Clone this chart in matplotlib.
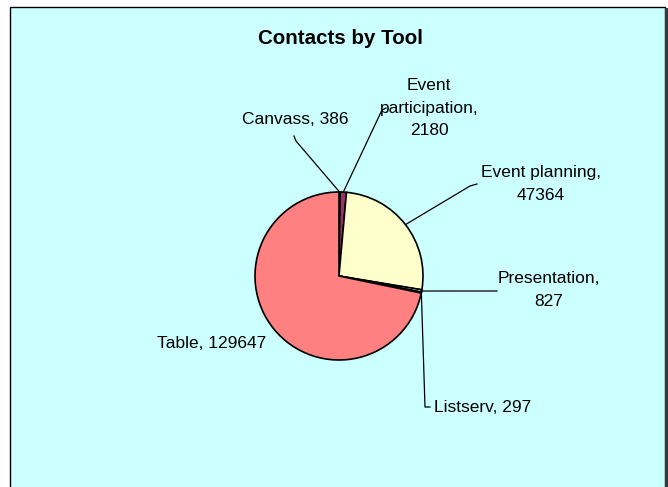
import numpy as np
import matplotlib
matplotlib.use("Agg")
import matplotlib.pyplot as plt
from matplotlib.patches import Rectangle

plt.rcParams["font.family"] = ["Liberation Sans", "DejaVu Sans"]

categories = ["Canvass", "Event participation", "Event planning",
              "Presentation", "Listserv", "Table"]
values = [386, 2180, 47364, 827, 297, 129647]
colors = ["#9999FF", "#993366", "#FFFFCC", "#CCFFFF", "#660066", "#FF8080"]
title = "Contacts by Tool"

W, H = 668, 487
CX, CY, R = 339, 276, 84   # pie centre and radius in pixels


def px(x, y):
    """pixel position (top-left origin) -> pie data coords (radius 1)"""
    return (x - CX) / R, (CY - y) / R


# label text anchor (pixels), alignment, and leader elbow points (pixels)
label_layout = {
    "Canvass": dict(text=(295, 119), ha="center", text_str="Canvass, 386",
                    path=[(294, 136), (296, 141)]),
    "Event participation": dict(text=(429, 108), ha="center",
                                text_str="Event\nparticipation,\n2180",
                                path=[(386, 108), (382, 110)]),
    "Event planning": dict(text=(541, 184), ha="center",
                           text_str="Event planning,\n47364",
                           path=[(477, 184), (470, 186)]),
    "Presentation": dict(text=(549, 290), ha="center",
                         text_str="Presentation,\n827",
                         path=[(497, 291)]),
    "Listserv": dict(text=(434, 408), ha="left", text_str="Listserv, 297",
                     path=[(430, 407), (425, 407)]),
    "Table": dict(text=(212, 343), ha="center", text_str="Table, 129647",
                  path=None),
}

fig = plt.figure(figsize=(W / 100, H / 100), dpi=100)
fig.patch.set_facecolor("white")

# chart area background with border and right shadow
fig.patches.append(Rectangle((10 / W, -0.02), (665 - 10) / W, (H - 7) / H + 0.02,
                             transform=fig.transFigure, facecolor="#CCFFFF",
                             edgecolor="black", linewidth=1.0, zorder=-5))
fig.patches.append(Rectangle((665 / W, -0.02), 3 / W, (H - 8) / H + 0.02,
                             transform=fig.transFigure, facecolor="#3a3a3a",
                             edgecolor="none", zorder=-5))

fig.text(340 / W, 1 - 38.5 / H, title, ha="center", va="center",
         fontsize=14.8, fontweight="bold")

# axes covering the whole figure so that labels can sit anywhere
ax = fig.add_axes([0, 0, 1, 1], zorder=2)
ax.patch.set_visible(False)

wedges, _ = ax.pie(values, colors=colors, startangle=90, counterclock=False,
                   radius=1, center=(0, 0), frame=True,
                   wedgeprops=dict(edgecolor="black", linewidth=1.2))
ax.set_xlim(px(0, 0)[0], px(W, 0)[0])
ax.set_ylim(px(0, H)[1], px(0, 0)[1])
ax.set_aspect("auto")
ax.axis("off")

for name, wedge in zip(categories, wedges):
    lay = label_layout[name]
    if lay["path"]:
        mid = np.deg2rad((wedge.theta1 + wedge.theta2) / 2)
        pts = [(np.cos(mid), np.sin(mid))] + [px(*p) for p in reversed(lay["path"])]
        xs, ys = zip(*pts)
        ax.plot(xs, ys, color="black", linewidth=0.9, zorder=3)
    tx, ty = px(*lay["text"])
    ax.text(tx, ty, lay["text_str"], ha=lay["ha"], va="center",
            fontsize=12.5, linespacing=1.6, zorder=4)

fig.savefig("out.png", dpi=100)
